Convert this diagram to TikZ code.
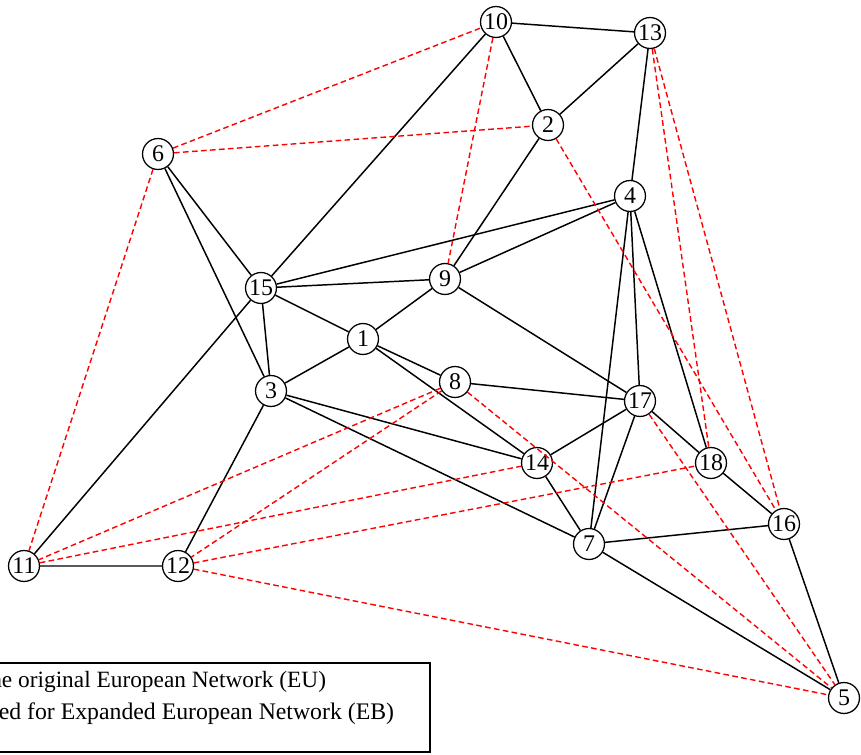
\documentclass[tikz,border=0pt]{standalone}
\usepackage{fontspec}
\setmainfont{Liberation Serif}

\begin{document}
\begin{tikzpicture}[x=0.025cm,y=-0.025cm,
  city/.style={draw,circle,line width=0.9pt,minimum size=22pt,inner sep=0pt,font=\fontsize{17}{20}\selectfont},
  eu/.style={line width=1.05pt},
  eb/.style={red,line width=1pt,dash pattern=on 4pt off 2.4pt}]

\useasboundingbox (0,0) rectangle (861,755);

\node[city] (n10) at (496,22) {10};
\node[city] (n13) at (650,33) {13};
\node[city] (n2) at (548,125) {2};
\node[city] (n6) at (158,154) {6};
\node[city] (n4) at (630,196) {4};
\node[city] (n15) at (261,288) {15};
\node[city] (n9) at (445,279) {9};
\node[city] (n1) at (363,339) {1};
\node[city] (n3) at (271,391) {3};
\node[city] (n8) at (455,382) {8};
\node[city] (n17) at (640,401) {17};
\node[city] (n14) at (537,463) {14};
\node[city] (n18) at (711,463) {18};
\node[city] (n16) at (784,524) {16};
\node[city] (n7) at (589,544) {7};
\node[city] (n11) at (24,566) {11};
\node[city] (n12) at (178,566) {12};
\node[city] (n5) at (844,698) {5};

% original links
\draw[eu] (n10) -- (n13) (n10) -- (n2) (n10) -- (n15) (n13) -- (n2) (n13) -- (n4) (n2) -- (n9);
\draw[eu] (n6) -- (n15) (n6) -- (n3) (n4) -- (n15) (n4) -- (n9) (n4) -- (n7) (n4) -- (n17) (n4) -- (n18);
\draw[eu] (n15) -- (n9) (n15) -- (n1) (n15) -- (n3) (n15) -- (n11) (n9) -- (n1) (n9) -- (n17);
\draw[eu] (n1) -- (n3) (n1) -- (n8) (n1) -- (n14) (n3) -- (n14) (n3) -- (n7) (n3) -- (n12);
\draw[eu] (n8) -- (n17) (n17) -- (n14) (n17) -- (n7) (n17) -- (n18) (n14) -- (n7);
\draw[eu] (n18) -- (n16) (n7) -- (n16) (n7) -- (n5) (n16) -- (n5) (n11) -- (n12);

% added links
\draw[eb] (n6) -- (n10) (n6) -- (n2) (n6) -- (n11) (n10) -- (n9) (n2) -- (n16);
\draw[eb] (n13) -- (n18) (n13) -- (n16) (n8) -- (n11) (n8) -- (n12) (n8) -- (n5);
\draw[eb] (n17) -- (n5) (n11) -- (n14) (n12) -- (n18) (n12) -- (n5);

% legend
\draw[line width=1.1pt] (-60,663) rectangle (430,752);
\node[anchor=base east,font=\fontsize{16.6}{19}\selectfont] (leg1) at (331,687) {the original European Network (EU)};
\node[anchor=base east,font=\fontsize{16.9}{20}\selectfont] (leg2) at (399,719) {added for Expanded European Network (EB)};
\end{tikzpicture}
\end{document}
